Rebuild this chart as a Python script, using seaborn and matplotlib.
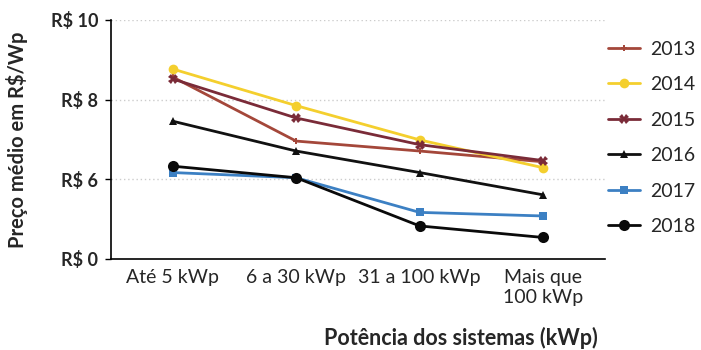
import matplotlib
matplotlib.use("Agg")
import matplotlib.pyplot as plt
import pandas as pd
import seaborn as sns

# categories and values (R$/Wp)
categorias = ["Até 5 kWp", "6 a 30 kWp", "31 a 100 kWp", "Mais que\n100 kWp"]
anos = ["2013", "2014", "2015", "2016", "2017", "2018"]
v2013 = [8.57, 6.96, 6.71, 6.44]
v2014 = [8.77, 7.85, 6.99, 6.29]
v2015 = [8.52, 7.54, 6.87, 6.47]
v2016 = [7.46, 6.71, 6.17, 5.61]
v2017 = [6.17, 6.04, 5.17, 5.08]
v2018 = [6.33, 6.04, 4.83, 4.54]
# y ticks: broken axis, bottom tick labelled R$ 0
yticks = [4, 6, 8, 10]
ytick_labels = ["R$ 0", "R$ 6", "R$ 8", "R$ 10"]

cores = ["#A4473A", "#F4CF2E", "#7A2B38", "#111111", "#3C80C3", "#0A0A0A"]
marcadores = ["P", "o", "X", "^", "s", "o"]
tamanhos = [5, 7, 7, 6, 6, 8]

series = [v2013, v2014, v2015, v2016, v2017, v2018]
df = pd.DataFrame({
    "cat": categorias * len(anos),
    "ano": [a for a in anos for _ in categorias],
    "valor": [v for s in series for v in s],
})

sns.set_style("white")
plt.rcParams["font.family"] = ["Lato", "DejaVu Sans"]

fig = plt.figure(figsize=(7.01, 3.5), dpi=100)
ax = fig.add_axes([0.158, 0.26, 0.705, 0.683])

for ano, cor, mk, ms in zip(anos, cores, marcadores, tamanhos):
    d = df[df["ano"] == ano]
    sns.lineplot(data=d, x="cat", y="valor", ax=ax, color=cor, marker=mk,
                 markersize=ms, markeredgewidth=0, linewidth=2, label=ano,
                 sort=False)

ax.set_ylim(4, 10)
ax.set_yticks(yticks)
ax.set_yticklabels(ytick_labels, fontsize=13, fontweight="bold")
ax.set_xlim(-0.5, 3.5)
ax.set_xticks(range(len(categorias)))
ax.set_xticklabels(categorias, fontsize=14)
ax.set_xticks([0.5, 1.5, 2.5], minor=True)
ax.tick_params(axis="x", which="major", length=0, pad=7)
ax.tick_params(axis="x", which="minor", length=4, width=1, color="black", direction="out")
ax.tick_params(axis="y", length=4, width=1, color="black", direction="out", left=True, pad=5)

for y in [6, 8, 10]:
    ax.axhline(y, color="#cccccc", linestyle=(0, (1, 2)), linewidth=1, zorder=0)

for s in ["top", "right"]:
    ax.spines[s].set_visible(False)
for s in ["left", "bottom"]:
    ax.spines[s].set_color("black")
    ax.spines[s].set_linewidth(1.2)

ax.set_xlabel("")
ax.set_ylabel("Preço médio em R$/Wp", fontsize=14.5, fontweight="bold")
ax.yaxis.set_label_coords(-0.168, 0.5)
fig.text(0.658, 0.034, "Potência dos sistemas (kWp)", fontsize=15.5,
         fontweight="bold", ha="center", va="center")

ax.legend(loc="upper left", bbox_to_anchor=(1.0, 0.925), frameon=False,
          fontsize=14, handlelength=1.65, handletextpad=0.5, labelspacing=0.95,
          borderpad=0, borderaxespad=0.15)

fig.savefig("out.png", dpi=100)
